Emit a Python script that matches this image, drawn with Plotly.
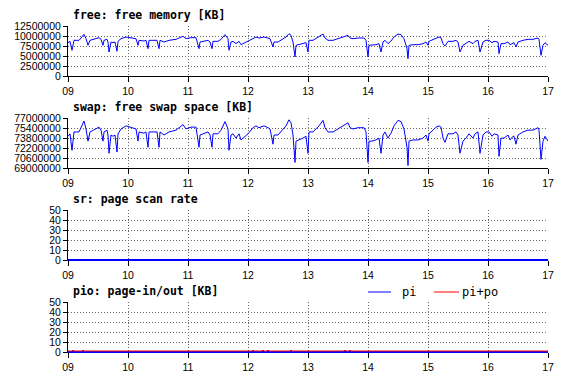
import plotly.graph_objects as go
from plotly.subplots import make_subplots

# ---------------- data ----------------
hour_ticks = [9, 10, 11, 12, 13, 14, 15, 16, 17]
hour_labels = ["09", "10", "11", "12", "13", "14", "15", "16", "17"]

# sample times (minutes after 09:00)
mem_minutes = [
    0, 2, 4, 6, 11, 14, 16, 18, 20, 22,
    28, 31, 33, 35, 36, 39, 40, 41, 43, 45,
    47, 49, 50, 53, 58, 63, 68, 70, 71, 76,
    78, 80, 81, 86, 89, 91, 92, 96, 101, 108,
    113, 115, 118, 123, 128, 131, 132, 136, 140, 142,
    144, 145, 150, 153, 155, 157, 160, 161, 163, 165,
    168, 171, 173, 175, 180, 185, 188, 191, 196, 200,
    202, 205, 206, 210, 215, 218, 221, 223, 225, 227,
    228, 231, 235, 238, 240, 241, 245, 248, 251, 255,
    257, 260, 265, 270, 275, 280, 282, 285, 290, 296,
    298, 300, 301, 304, 308, 311, 313, 315, 317, 320,
    323, 326, 330, 333, 336, 339, 340, 341, 345, 350,
    355, 358, 360, 361, 365, 368, 371, 373, 375, 377,
    380, 385, 388, 390, 392, 395, 398, 401, 405, 407,
    410, 412, 415, 418, 421, 424, 426, 430, 431, 433,
    436, 440, 442, 445, 446, 448, 450, 455, 460, 465,
    470, 471, 473, 475, 477, 480,
]

# free memory, millions of KB
free_mkb = [
    8.33, 8.67, 6.42, 8.92, 8.92, 9.75, 10.42, 9.33, 7.67, 8.92,
    9.33, 9.58, 9.17, 7.67, 8.92, 9.17, 8.5, 6.0, 8.5, 8.33,
    8.5, 6.17, 8.67, 9.33, 9.75, 9.58, 9.33, 7.67, 8.92, 8.75,
    8.92, 6.83, 8.92, 8.92, 8.92, 6.83, 8.92, 8.5, 8.92, 9.17,
    9.75, 9.92, 9.33, 9.58, 9.58, 6.83, 8.5, 8.75, 8.92, 8.5,
    6.83, 8.67, 8.67, 9.17, 9.75, 10.33, 9.33, 6.42, 8.5, 8.67,
    8.08, 8.67, 7.83, 8.08, 8.67, 9.5, 9.75, 9.5, 9.75, 9.5,
    9.33, 7.25, 8.5, 8.5, 9.33, 9.75, 10.58, 10.17, 8.5, 4.75,
    7.67, 7.83, 8.08, 8.33, 6.0, 8.92, 8.92, 9.33, 9.75, 10.5,
    9.5, 8.92, 8.92, 9.33, 9.75, 10.17, 9.5, 9.33, 9.5, 9.5,
    8.92, 4.75, 7.67, 7.67, 7.83, 8.08, 6.0, 8.5, 8.92, 8.08,
    8.75, 9.75, 10.5, 10.33, 9.33, 6.83, 4.33, 7.67, 7.83, 7.83,
    8.08, 8.5, 7.67, 8.67, 9.17, 9.58, 9.75, 9.58, 8.08, 7.5,
    8.67, 8.67, 8.92, 8.5, 6.0, 7.67, 8.08, 8.67, 8.08, 8.67,
    8.92, 6.0, 8.5, 8.92, 8.92, 8.33, 8.67, 8.5, 5.58, 8.08,
    8.08, 8.5, 7.83, 8.33, 8.33, 7.25, 8.5, 8.92, 9.17, 9.17,
    9.5, 9.17, 5.17, 7.67, 8.33, 7.67,
]

# free swap space, millions of KB
swap_mkb = [
    74.08, 74.47, 71.84, 74.77, 74.77, 75.74, 76.52, 75.25, 73.30, 74.77,
    75.25, 75.54, 75.06, 73.30, 74.77, 75.06, 74.28, 71.35, 74.28, 74.08,
    74.28, 71.55, 74.47, 75.25, 75.74, 75.54, 75.25, 73.30, 74.77, 74.57,
    74.77, 72.32, 74.77, 74.77, 74.77, 72.32, 74.77, 74.28, 74.77, 75.06,
    75.74, 75.94, 75.25, 75.54, 75.54, 72.32, 74.28, 74.57, 74.77, 74.28,
    72.32, 74.47, 74.47, 75.06, 75.74, 76.42, 75.25, 71.84, 74.28, 74.47,
    73.78, 74.47, 73.49, 73.78, 74.47, 75.45, 75.74, 75.45, 75.74, 75.45,
    75.25, 72.81, 74.28, 74.28, 75.25, 75.74, 76.71, 76.23, 74.28, 69.89,
    73.30, 73.49, 73.78, 74.08, 71.35, 74.77, 74.77, 75.25, 75.74, 76.62,
    75.45, 74.77, 74.77, 75.25, 75.74, 76.23, 75.45, 75.25, 75.45, 75.45,
    74.77, 69.89, 73.30, 73.30, 73.49, 73.78, 71.35, 74.28, 74.77, 73.78,
    74.57, 75.74, 76.62, 76.42, 75.25, 72.32, 69.40, 73.30, 73.49, 73.49,
    73.78, 74.28, 73.30, 74.47, 75.06, 75.54, 75.74, 75.54, 73.78, 73.11,
    74.47, 74.47, 74.77, 74.28, 71.35, 73.30, 73.78, 74.47, 73.78, 74.47,
    74.77, 71.35, 74.28, 74.77, 74.77, 74.08, 74.47, 74.28, 70.86, 73.78,
    73.78, 74.28, 73.49, 74.08, 74.08, 72.81, 74.28, 74.77, 75.06, 75.06,
    75.45, 75.06, 70.38, 73.30, 74.08, 73.30,
]

sr_minutes = [0, 60, 120, 180, 240, 300, 360, 420, 480]
sr_values = [0, 0, 0, 0, 0, 0, 0, 0, 0]

pio_minutes = [0, 480]
pi_values = [0, 0]
pipo_minutes = [0, 4, 5, 6, 14, 15, 16, 184, 185, 186, 194, 195, 196, 199, 200, 201,
                222, 223, 224, 276, 277, 278, 281, 282, 283, 480]
pipo_values = [1, 1, 2, 1, 1, 2, 1, 1, 2, 1, 1, 2, 1, 1, 2, 1,
               1, 2, 1, 1, 2, 1, 1, 2, 1, 1]

free_ticks = [0, 2500000, 5000000, 7500000, 10000000, 12500000]
free_ticklabels = ["0", "2500000", "5000000", "7500000", "10000000", "12500000"]
swap_ticks = [69000000, 70600000, 72200000, 73800000, 75400000, 77000000]
swap_ticklabels = ["69000000", "70600000", "72200000", "73800000", "75400000", "77000000"]
small_ticks = [0, 10, 20, 30, 40, 50]
small_ticklabels = ["0", "10", "20", "30", "40", "50"]

titles = ["free: free memory [KB]", "swap: free swap space [KB]",
          "sr: page scan rate", "pio: page-in/out [KB]"]
legend_names = ["pi", "pi+po"]

# ---------------- figure ----------------
def hours(mins):
    return [9 + m / 60 for m in mins]

fig = make_subplots(rows=4, cols=1)

BLUE = "#0000ff"
RED = "#ff0000"

fig.add_trace(go.Scatter(x=hours(mem_minutes), y=[v * 1e6 for v in free_mkb], mode="lines",
                         line=dict(color=BLUE, width=1)), row=1, col=1)
fig.add_trace(go.Scatter(x=hours(mem_minutes), y=[v * 1e6 for v in swap_mkb], mode="lines",
                         line=dict(color=BLUE, width=1)), row=2, col=1)
fig.add_trace(go.Scatter(x=hours(sr_minutes), y=sr_values, mode="lines",
                         line=dict(color=BLUE, width=2)), row=3, col=1)
fig.add_trace(go.Scatter(x=hours(pio_minutes), y=pi_values, mode="lines", name=legend_names[0],
                         line=dict(color=BLUE, width=2)), row=4, col=1)
fig.add_trace(go.Scatter(x=hours(pipo_minutes), y=pipo_values, mode="lines", name=legend_names[1],
                         line=dict(color=RED, width=1)), row=4, col=1)

TICKFONT = dict(family="Liberation Sans", size=10.5, color="black")
axis_common = dict(showline=True, linecolor="black", linewidth=1, ticks="outside",
                   tickcolor="black", tickwidth=1, showgrid=True, gridcolor="#666666",
                   griddash="1px,2px", gridwidth=1, zeroline=False, tickfont=TICKFONT,
                   layer="below traces", automargin=False)

H, W = 379, 563
ml, mr, mt, mb = 68, 15, 26, 27
ph = H - mt - mb
tops = [26, 118, 210, 302]
for i, top in enumerate(tops):
    bot = top + 50
    y0 = (H - mb - bot) / ph
    y1 = (H - mb - top) / ph
    fig.update_yaxes(domain=[y0, y1], row=i + 1, col=1, ticklen=4, **axis_common)
    fig.update_xaxes(range=[9, 17], tickvals=hour_ticks, ticktext=hour_labels,
                     ticklen=5, row=i + 1, col=1, **axis_common)

# the zero-valued blue series sit on the bottom axis line in the sr / pio panels
fig.update_xaxes(linecolor=BLUE, row=3, col=1)
fig.update_xaxes(linecolor=BLUE, row=4, col=1)

fig.update_yaxes(range=[0, 12500000], tickvals=free_ticks, ticktext=free_ticklabels, row=1, col=1)
fig.update_yaxes(range=[69000000, 77000000], tickvals=swap_ticks, ticktext=swap_ticklabels, row=2, col=1)
fig.update_yaxes(range=[0, 50], tickvals=small_ticks, ticktext=small_ticklabels, row=3, col=1)
fig.update_yaxes(range=[0, 50], tickvals=small_ticks, ticktext=small_ticklabels, row=4, col=1)

yrefs = ["y domain", "y2 domain", "y3 domain", "y4 domain"]
xrefs = ["x domain", "x2 domain", "x3 domain", "x4 domain"]
for i, t in enumerate(titles):
    fig.add_annotation(text=t, xref=xrefs[i], yref=yrefs[i], x=0, y=1, xanchor="left",
                       yanchor="middle", xshift=3, yshift=11, showarrow=False,
                       font=dict(family="DejaVu Sans Mono", size=11.5, color="black",
                                 weight="bold"))

# legend (drawn as key lines + labels above the pio panel)
pw = W - ml - mr
key_y = (352 - 292) / 50  # in y4 domain units
for name, color, x0, x1, tx in [(legend_names[0], BLUE, 368, 391, 400),
                                (legend_names[1], RED, 434, 459, 460)]:
    fig.add_shape(type="line", xref="x4 domain", yref="y4 domain",
                  x0=(x0 - ml) / pw, x1=(x1 - ml) / pw, y0=key_y, y1=key_y,
                  line=dict(color=color, width=1))
    fig.add_annotation(text=name, xref="x4 domain", yref="y4 domain",
                       x=(tx - ml) / pw, y=key_y, xanchor="left", yanchor="middle",
                       showarrow=False,
                       font=dict(family="DejaVu Sans Mono", size=12, color="black"))

fig.update_layout(
    width=W, height=H,
    margin=dict(l=ml, r=mr, t=mt, b=mb, pad=0, autoexpand=False),
    paper_bgcolor="white", plot_bgcolor="white",
    showlegend=False,
)

fig.write_html("out.html", config={"displayModeBar": False},
               post_script="document.body.style.margin='0';document.body.style.padding='0';")
